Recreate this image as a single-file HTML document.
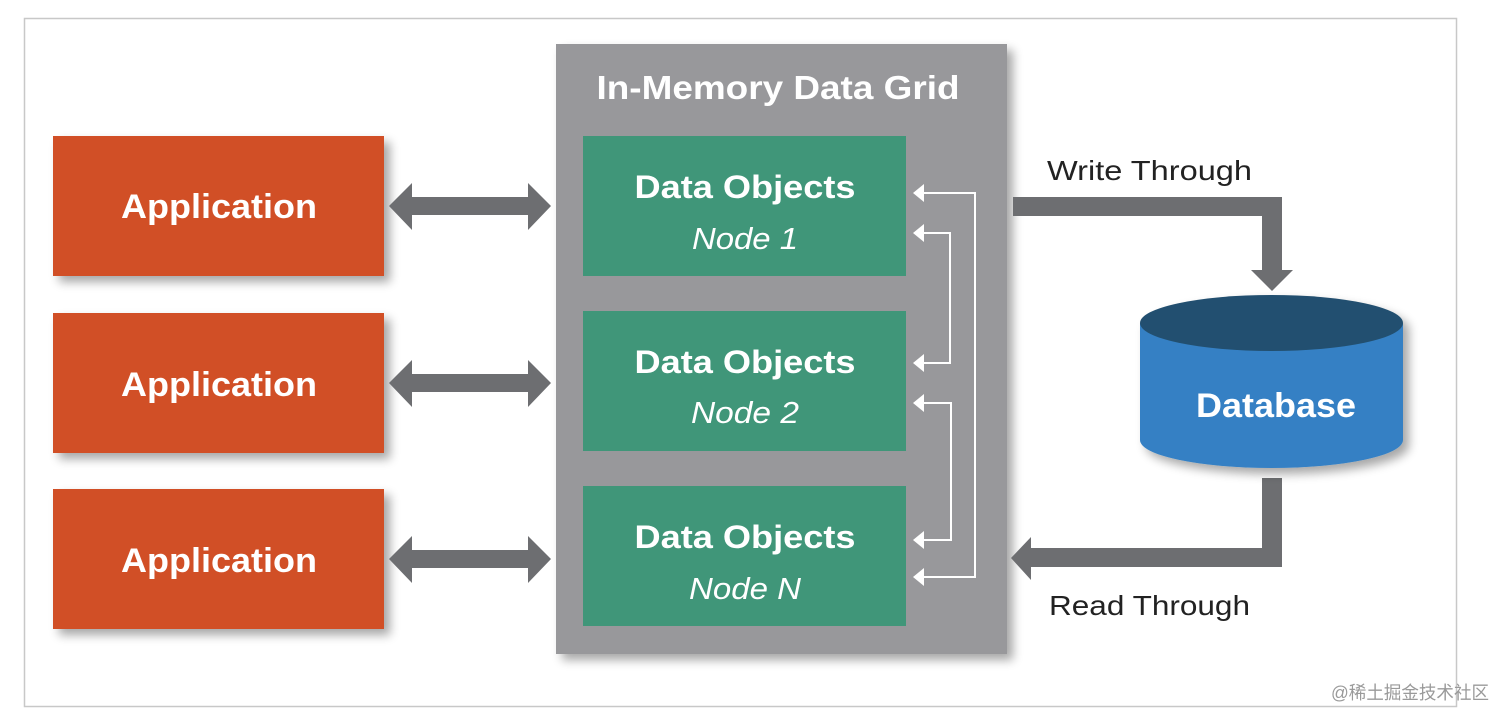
<!DOCTYPE html>
<html><head><meta charset="utf-8"><style>
html,body{margin:0;padding:0;background:#fff;width:1512px;height:724px;overflow:hidden}
text{font-family:"Liberation Sans","Noto Sans CJK SC",sans-serif}
</style></head><body>
<svg width="1512" height="724" viewBox="0 0 1512 724" xmlns="http://www.w3.org/2000/svg">
<defs>
<filter id="sh" x="-10%" y="-10%" width="130%" height="130%"><feGaussianBlur in="SourceAlpha" stdDeviation="5"/><feOffset dx="6" dy="6"/><feComponentTransfer><feFuncA type="linear" slope="0.35"/></feComponentTransfer><feMerge><feMergeNode/><feMergeNode in="SourceGraphic"/></feMerge></filter>
</defs>
<rect x="24.5" y="18.5" width="1432" height="688" fill="#fff" stroke="#c8c8c8" stroke-width="1.5"/>
<rect x="556" y="44" width="451" height="610" fill="#98989b" filter="url(#sh)"/>
<text x="778" y="99" text-anchor="middle" font-size="33" font-weight="bold" fill="#fff" textLength="363" lengthAdjust="spacingAndGlyphs">In-Memory Data Grid</text>
<g fill="#409679">
<rect x="583" y="136" width="323" height="140"/>
<rect x="583" y="311" width="323" height="140"/>
<rect x="583" y="486" width="323" height="140"/>
</g>
<g fill="#fff" text-anchor="middle">
<text x="745" y="198" font-size="32" font-weight="bold" textLength="221" lengthAdjust="spacingAndGlyphs">Data Objects</text>
<text x="745" y="249" font-size="31" font-style="italic" textLength="106" lengthAdjust="spacingAndGlyphs">Node 1</text>
<text x="745" y="373" font-size="32" font-weight="bold" textLength="221" lengthAdjust="spacingAndGlyphs">Data Objects</text>
<text x="745" y="423" font-size="31" font-style="italic" textLength="108" lengthAdjust="spacingAndGlyphs">Node 2</text>
<text x="745" y="548" font-size="32" font-weight="bold" textLength="221" lengthAdjust="spacingAndGlyphs">Data Objects</text>
<text x="745" y="599" font-size="31" font-style="italic" textLength="112" lengthAdjust="spacingAndGlyphs">Node N</text>
</g>
<g stroke="#fff" stroke-width="2" fill="none">
<polyline points="922,193 975,193 975,577 922,577"/>
<polyline points="922,233 950,233 950,363 922,363"/>
<polyline points="922,403 951,403 951,540 922,540"/>
</g>
<g fill="#fff">
<polygon points="913,193 924,184 924,202"/>
<polygon points="913,233 924,224 924,242"/>
<polygon points="913,363 924,354 924,372"/>
<polygon points="913,403 924,394 924,412"/>
<polygon points="913,540 924,531 924,549"/>
<polygon points="913,577 924,568 924,586"/>
</g>
<g fill="#d14f26" filter="url(#sh)">
<rect x="53" y="136" width="331" height="140"/>
<rect x="53" y="313" width="331" height="140"/>
<rect x="53" y="489" width="331" height="140"/>
</g>
<g fill="#fff" text-anchor="middle" font-size="34" font-weight="bold">
<text x="219" y="218" textLength="196" lengthAdjust="spacingAndGlyphs">Application</text>
<text x="219" y="396" textLength="196" lengthAdjust="spacingAndGlyphs">Application</text>
<text x="219" y="572" textLength="196" lengthAdjust="spacingAndGlyphs">Application</text>
</g>
<g fill="#6d6e71">
<polygon points="389,206 412,183 412,197 528,197 528,183 551,206 528,230 528,215 412,215 412,230"/>
<polygon points="389,383 412,360 412,374 528,374 528,360 551,383 528,407 528,392 412,392 412,407"/>
<polygon points="389,559 412,536 412,550 528,550 528,536 551,559 528,583 528,568 412,568 412,583"/>
</g>
<g fill="#6d6e71">
<polygon points="1013,197 1282,197 1282,270 1293,270 1272,291 1251,270 1262,270 1262,216 1013,216"/>
<polygon points="1262,478 1282,478 1282,567 1031,567 1031,580 1011,558 1031,537 1031,548 1262,548"/>
</g>
<text x="1047" y="180" font-size="28" fill="#222" textLength="205" lengthAdjust="spacingAndGlyphs">Write Through</text>
<text x="1049" y="615" font-size="28" fill="#222" textLength="201" lengthAdjust="spacingAndGlyphs">Read Through</text>
<g filter="url(#sh)">
<path d="M1140,323 L1140,440 A131.5,28 0 0 0 1403,440 L1403,323 Z" fill="#3580c4"/>
<ellipse cx="1271.5" cy="323" rx="131.5" ry="28" fill="#24506f"/>
</g>
<text x="1276" y="417" text-anchor="middle" font-size="34" font-weight="bold" fill="#fff" textLength="160" lengthAdjust="spacingAndGlyphs">Database</text>
<text x="1331" y="699" font-size="18" fill="#9a9a9a" textLength="158" lengthAdjust="spacingAndGlyphs">@稀土掘金技术社区</text>
</svg>
</body></html>
